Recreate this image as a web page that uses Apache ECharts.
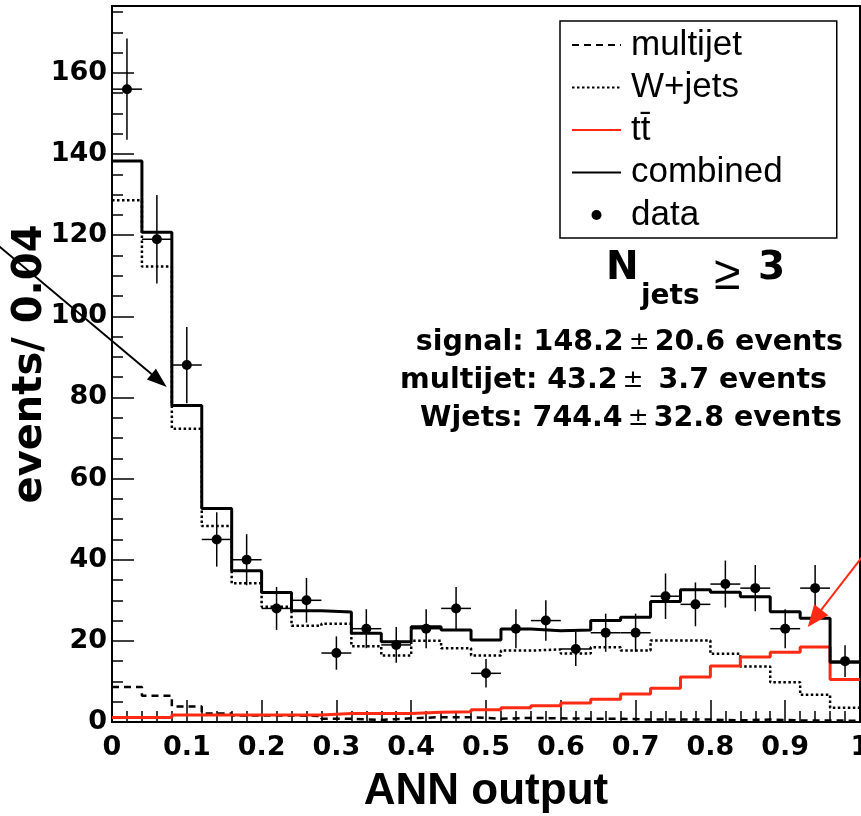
<!DOCTYPE html>
<html><head><meta charset="utf-8">
<script src="https://cdn.jsdelivr.net/npm/echarts@6/dist/echarts.min.js"></script>
<style>html,body{margin:0;padding:0;background:#fff}#c{width:861px;height:816px}</style>
</head><body><div id="c"></div>
<script>
// ---- data (25 bins of width 0.04 on ANN output 0..1) ----
const binWidth = 0.04;
const xTicks = [0, 0.1, 0.2, 0.3, 0.4, 0.5, 0.6, 0.7, 0.8, 0.9, 1];
const yTicks = [0, 20, 40, 60, 80, 100, 120, 140, 160];
const yMinorTicks = [0, 5, 10, 15, 20, 25, 30, 35, 40, 45, 50, 55, 60, 65, 70, 75, 80, 85, 90, 95, 100, 105, 110, 115, 120, 125, 130, 135, 140, 145, 150, 155, 160, 165, 170, 175];
const yMax = 176.5;

const multijet = [8.6, 6.5, 3.8, 2.1, 1.6, 1.6, 1.5, 0.8, 0.5, 0.9, 1.2, 1.2, 0.8, 1.0, 0.9, 0.8, 0.8, 0.6, 0.6, 0.6, 0.4, 0.6, 0.4, 0.4, 0.3];
const wjets = [128.6, 112.3, 72.3, 48.3, 34.2, 28.4, 23.7, 24.2, 18.7, 16.4, 20.0, 18.2, 16.4, 17.6, 17.9, 16.9, 18.4, 17.6, 20.1, 20.1, 16.8, 13.7, 9.8, 6.7, 3.5];
const ttbar = [1.1, 1.1, 1.7, 1.7, 1.7, 1.7, 1.7, 2.1, 2.1, 2.1, 2.4, 2.5, 3.0, 3.5, 4.0, 4.7, 5.6, 6.9, 8.3, 11.1, 13.8, 16.0, 17.2, 18.5, 10.5];
const combined = [138.3, 120.7, 78.0, 52.6, 37.3, 31.9, 27.4, 27.1, 21.9, 19.8, 23.5, 22.7, 20.2, 22.9, 22.5, 22.7, 25.0, 25.8, 29.7, 32.6, 32.0, 30.9, 27.2, 25.6, 14.7];
const dataCounts = [156, 119, 88, 45, 40, 28, 30, 17, 23, 19, 23, 28, 12, 23, 25, 18, 22, 22, 31, 29, 34, 33, 23, 33, 15];
const dataErrors = [12.5, 10.9, 9.4, 6.7, 6.3, 5.3, 5.5, 4.1, 4.8, 4.4, 4.8, 5.3, 3.5, 4.8, 5.0, 4.2, 4.7, 4.7, 5.6, 5.4, 5.8, 5.7, 4.8, 5.7, 3.9];

const seriesNames = ['multijet', 'W+jets', 't\u0074\u0304', 'combined', 'data'];
const statLeft = ['signal: 148.2', 'multijet: 43.2', 'Wjets: 744.4'];
const statRight = ['20.6 events', ' 3.7 events', '32.8 events'];
// annotation arrows in data coordinates
const arrowBlack = {from: [-0.157, 118.2], to: [0.0732, 82.6]};
const arrowRed = {from: [1.008, 41.9], to: [0.9302, 23.4]};

// ---- helpers ----
function histData(vals) {
  const d = vals.map((v, i) => [i * binWidth, v]);
  d.push([vals.length * binWidth, vals[vals.length - 1]]);
  return d;
}
const BOLD = 'DejaVu Sans';
const RED = '#ff2a14';
const noSym = {color: 'rgba(0,0,0,0)', borderWidth: 0, opacity: 0};

const option = {
  animation: false,
  backgroundColor: '#fff',
  grid: {left: 112, right: 1, top: 6, bottom: 94, show: true, borderColor: '#000', borderWidth: 2,
         outerBoundsMode: 'none', containLabel: false},
  legend: {
    left: 560, top: 21, orient: 'vertical',
    padding: [6, 54, 5, 11], itemGap: 6.5, itemWidth: 49, itemHeight: 10,
    borderColor: '#000', borderWidth: 1.5, backgroundColor: '#fff',
    selectedMode: false,
    textStyle: {fontFamily: 'Liberation Sans', fontSize: 35, color: '#000', lineHeight: 36, padding: [0, 0, 0, 5]},
    data: [
      {name: seriesNames[0], itemStyle: noSym}, {name: seriesNames[1], itemStyle: noSym},
      {name: seriesNames[2], itemStyle: noSym}, {name: seriesNames[3], itemStyle: noSym},
      {name: seriesNames[4], icon: 'circle', itemStyle: {color: '#000', opacity: 1}}
    ]
  },
  xAxis: {
    type: 'value', min: xTicks[0], max: xTicks[xTicks.length - 1], interval: 0.1,
    axisLine: {show: true, lineStyle: {color: '#000', width: 2}},
    axisTick: {show: true, inside: true, length: 22, lineStyle: {color: '#000', width: 1.5}},
    minorTick: {show: true, splitNumber: 5, length: 11, lineStyle: {color: '#000', width: 1.5}},
    axisLabel: {color: '#000', fontFamily: BOLD, fontWeight: 'bold', fontSize: 27, margin: 12},
    splitLine: {show: false}, minorSplitLine: {show: false},
    name: 'ANN output', nameLocation: 'middle', nameGap: 48, nameMoveOverlap: false,
    nameTextStyle: {color: '#000', fontFamily: 'Liberation Sans', fontWeight: 'bold', fontSize: 44}
  },
  yAxis: [{
    type: 'value', min: 0, max: yMax, interval: 20,
    axisLine: {show: true, lineStyle: {color: '#000', width: 2}},
    axisTick: {show: true, inside: true, length: 22, customValues: yTicks, lineStyle: {color: '#000', width: 1.5}},
    axisLabel: {color: '#000', fontFamily: BOLD, fontWeight: 'bold', fontSize: 27, margin: 5, customValues: yTicks,
      formatter: v => (yTicks.indexOf(v) >= 0 ? String(v) : '')},
    splitLine: {show: false},
    name: 'events/ 0.04', nameLocation: 'middle', nameRotate: 90, nameGap: 61, nameMoveOverlap: false,
    nameTextStyle: {color: '#000', fontFamily: BOLD, fontWeight: 'bold', fontSize: 40}
  }, {
    type: 'value', min: 0, max: yMax, interval: 5, position: 'left',
    axisLine: {show: false},
    axisTick: {show: true, inside: true, length: 11, customValues: yMinorTicks, lineStyle: {color: '#000', width: 1.5}},
    axisLabel: {show: false}, splitLine: {show: false}
  }],
  series: [
    {name: seriesNames[0], type: 'line', step: 'end', symbol: 'none', data: histData(multijet),
     itemStyle: {color: '#000'}, lineStyle: {color: '#000', width: 2.5, type: [7, 5]}},
    {name: seriesNames[1], type: 'line', step: 'end', symbol: 'none', data: histData(wjets),
     itemStyle: {color: '#000'}, lineStyle: {color: '#000', width: 2.5, type: [2.5, 2.5]}},
    {name: seriesNames[2], type: 'line', step: 'end', symbol: 'none', data: histData(ttbar),
     itemStyle: {color: RED}, lineStyle: {color: RED, width: 3}},
    {name: seriesNames[3], type: 'line', step: 'end', symbol: 'none', data: histData(combined),
     itemStyle: {color: '#000'}, lineStyle: {color: '#000', width: 3}},
    {name: 'errbars', type: 'custom', silent: true,
     data: dataCounts.map((v, i) => [(i + 0.5) * binWidth, v, dataErrors[i]]),
     encode: {x: 0, y: 1},
     renderItem: function (params, api) {
       const xc = api.value(0), v = api.value(1), e = api.value(2);
       const top = api.coord([xc, v + e]), bot = api.coord([xc, v - e]);
       const l = api.coord([xc - binWidth / 2, v]), r = api.coord([xc + binWidth / 2, v]);
       const st = {stroke: '#000', lineWidth: 1.5};
       return {type: 'group', children: [
         {type: 'line', shape: {x1: top[0], y1: top[1], x2: bot[0], y2: bot[1]}, style: st},
         {type: 'line', shape: {x1: l[0], y1: l[1], x2: r[0], y2: r[1]}, style: st}
       ]};
     }},
    {name: seriesNames[4], type: 'scatter', symbol: 'circle', symbolSize: 10,
     data: dataCounts.map((v, i) => [(i + 0.5) * binWidth, v]),
     itemStyle: {color: '#000', opacity: 1}}
  ]
};

const chart = echarts.init(document.getElementById('c'), null, {renderer: 'canvas', width: 861, height: 816});
chart.setOption(option);

function px(p) { return chart.convertToPixel({xAxisIndex: 0, yAxisIndex: 0}, p); }
function arrow(a0, color, len, half, lw) {
  const a = px(a0.from), b = px(a0.to);
  const dx = b[0] - a[0], dy = b[1] - a[1], d = Math.hypot(dx, dy), ux = dx / d, uy = dy / d;
  const bx = b[0] - ux * len, by = b[1] - uy * len;
  return [
    {type: 'line', z: 100, shape: {x1: a[0], y1: a[1], x2: bx + ux * 2, y2: by + uy * 2}, style: {stroke: color, lineWidth: lw}},
    {type: 'polygon', z: 100, shape: {points: [[b[0], b[1]], [bx - uy * half, by + ux * half], [bx + uy * half, by - ux * half]]}, style: {fill: color}}
  ];
}
function txt(x, y, text, opts) {
  return {type: 'text', z: 100, x: x, y: y, style: Object.assign({
    text: text, fontFamily: BOLD, fontWeight: 'bold', fontSize: 27, fill: '#000', align: 'left', verticalAlign: 'top'
  }, opts || {})};
}
// statistics block: right-aligned rows
const statRightX = [843, 827, 842], statTopY = [328, 366, 404];
const texts = statLeft.map((s, i) => txt(statRightX[i], statTopY[i],
  '{b|' + s + '}{pm|\u00b1}{b|' + statRight[i] + '}', {
    align: 'right',
    rich: {
      b: {fontFamily: BOLD, fontWeight: 'bold', fontSize: 28.5, fill: '#000'},
      pm: {fontFamily: BOLD, fontWeight: 'normal', fontSize: 25, fill: '#000', padding: [0, 5, 0, 5]}
    }
  }));
texts.push(
  txt(606, 249, 'N', {fontSize: 39}),
  txt(641, 283, 'jets', {fontSize: 28}),
  txt(714, 252, '\u2265', {fontFamily: 'Liberation Sans', fontWeight: 'normal', fontSize: 48}),
  txt(758, 249, '3', {fontSize: 39})
);
chart.setOption({graphic: texts.concat(arrow(arrowBlack, '#000', 20, 7, 2), arrow(arrowRed, RED, 22, 9, 2))});
</script>
</body></html>
